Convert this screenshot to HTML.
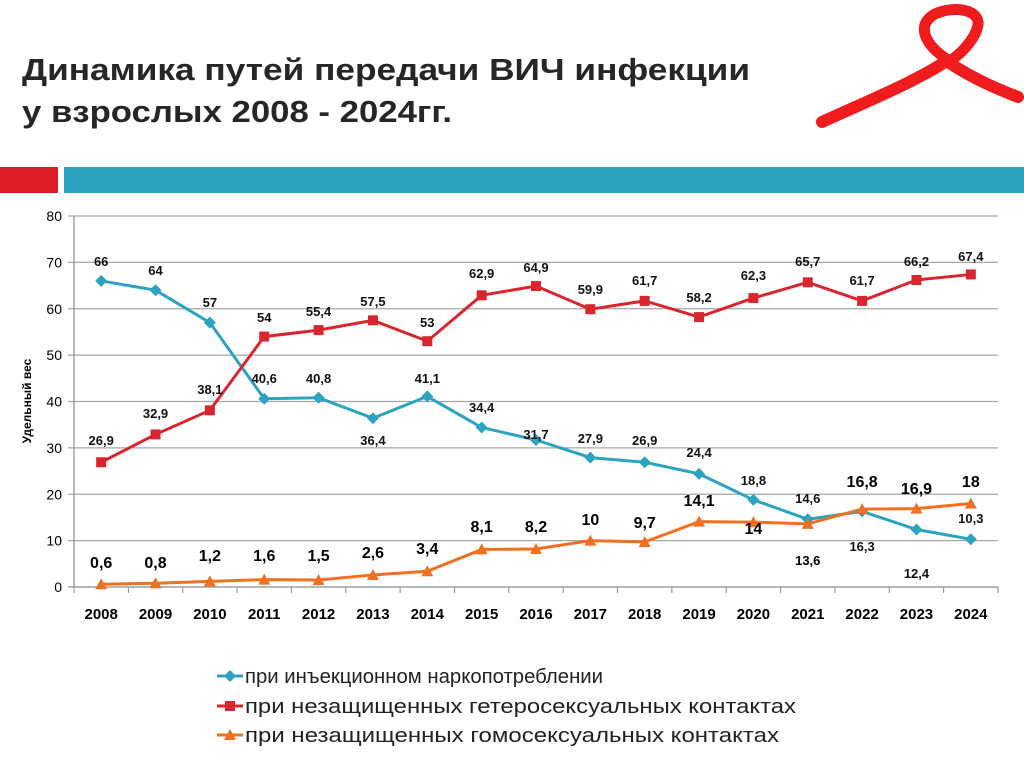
<!DOCTYPE html>
<html><head><meta charset="utf-8"><style>
html,body{margin:0;padding:0;background:#fff;}
svg{display:block;font-family:"Liberation Sans",sans-serif;}
</style></head><body>
<svg id="s" width="1024" height="767" viewBox="0 0 1024 767" xmlns="http://www.w3.org/2000/svg">
<text x="22" y="80" font-size="31" font-weight="bold" fill="#262626" textLength="728" lengthAdjust="spacingAndGlyphs">Динамика путей передачи ВИЧ инфекции</text>
<text x="22" y="122" font-size="31" font-weight="bold" fill="#262626" textLength="430" lengthAdjust="spacingAndGlyphs">у взрослых 2008 - 2024гг.</text>
<g fill="none" stroke="#ee1c1c" stroke-linecap="round">
<path d="M822,122 C870,100 915,82 948,60" stroke-width="12"/>
<path d="M948,60 C925,45 915,25 935,14 C955,5 980,10 978,25 C975,40 960,55 948,62" stroke-width="11"/>
<path d="M948,62 C975,80 1000,90 1018,97" stroke-width="12"/>
</g>
<rect x="0" y="167" width="58" height="26" fill="#dc1f26"/>
<rect x="64" y="167" width="960" height="26" fill="#2ea3bf"/>
<g id="grid"></g>
<g id="series"></g>
<text transform="translate(31,401) rotate(-90)" font-size="12" font-weight="bold" text-anchor="middle" fill="#000">Удельный вес</text>
<g font-size="20" fill="#222">
<line x1="217" y1="676" x2="243" y2="676" stroke="#2ea3bf" stroke-width="3"/><path d="M230,670 L236,676 L230,682 L224,676Z" fill="#2ea3bf"/>
<text x="245" y="683" textLength="358" lengthAdjust="spacingAndGlyphs">при инъекционном наркопотреблении</text>
<line x1="217" y1="706" x2="243" y2="706" stroke="#d9262e" stroke-width="3"/><rect x="225" y="701" width="10" height="10" fill="#d9262e"/>
<text x="245" y="713" textLength="551" lengthAdjust="spacingAndGlyphs">при незащищенных гетеросексуальных контактах</text>
<line x1="217" y1="735" x2="243" y2="735" stroke="#f07022" stroke-width="3"/><path d="M230,729 L236,740 L224,740Z" fill="#f07022"/>
<text x="245" y="742" textLength="534" lengthAdjust="spacingAndGlyphs">при незащищенных гомосексуальных контактах</text>
</g>
</svg>
<script>
var ns="http://www.w3.org/2000/svg";
function el(p,t,a,txt){var e=document.createElementNS(ns,t);for(var k in a)e.setAttribute(k,a[k]);if(txt!=null)e.textContent=txt;p.appendChild(e);return e;}
var g=document.getElementById('grid'),s=document.getElementById('series');
var L=74,R=998,B=587,T=216,k=(B-T)/80,cw=(R-L)/17;
function Y(v){return B-v*k}function X(i){return L+cw*(i+0.5)}
for(var v=0;v<=80;v+=10){var y=Y(v);el(g,'line',{x1:L-6,x2:R,y1:y,y2:y,stroke:v?'#a6a6a6':'#8c8c8c','stroke-width':1.2});el(g,'text',{x:L-12,y:y+5,'font-size':14,'text-anchor':'end',fill:'#000'},v);}
el(g,'line',{x1:L,x2:L,y1:T,y2:B,stroke:'#8c8c8c','stroke-width':1.2});
for(var i=0;i<=17;i++){var x=L+cw*i;el(g,'line',{x1:x,x2:x,y1:B,y2:B+6,stroke:'#8c8c8c'});}
for(var i=0;i<17;i++)el(g,'text',{x:X(i),y:619,'font-size':15,'font-weight':'bold','text-anchor':'middle',fill:'#000'},2008+i);
var blue=[66,64,57,40.6,40.8,36.4,41.1,34.4,31.7,27.9,26.9,24.4,18.8,14.6,16.3,12.4,10.3];
var red=[26.9,32.9,38.1,54,55.4,57.5,53,62.9,64.9,59.9,61.7,58.2,62.3,65.7,61.7,66.2,67.4];
var orn=[0.6,0.8,1.2,1.6,1.5,2.6,3.4,8.1,8.2,10,9.7,14.1,14,13.6,16.8,16.9,18];
var bl=[261,270,302,378,378,440,378,407,434,438,440,452,480,498,546,573,518];
var rl=[440,413,389,317,311,301,322,273,267,289,280,297,275,261,280,261,256];
var ol=[562,562,555,555,555,552,548,526,526,519,522,500,528,559,481,488,481];
function line(d,c){el(s,'polyline',{points:d.map(function(v,i){return X(i)+','+Y(v)}).join(' '),fill:'none',stroke:c,'stroke-width':3});}
function fmt(v){return String(v).replace('.',',')}
line(blue,'#2ea3bf');line(red,'#d9262e');line(orn,'#f07022');
blue.forEach(function(v,i){var x=X(i),y=Y(v);el(s,'path',{d:'M'+x+','+(y-6)+'L'+(x+6)+','+y+'L'+x+','+(y+6)+'L'+(x-6)+','+y+'Z',fill:'#2ea3bf'});el(s,'text',{x:x,y:bl[i]+5,'font-size':13,'font-weight':'bold','text-anchor':'middle',fill:'#111'},fmt(v));});
red.forEach(function(v,i){var x=X(i),y=Y(v);el(s,'rect',{x:x-5,y:y-5,width:10,height:10,fill:'#d9262e'});el(s,'text',{x:x,y:rl[i]+5,'font-size':13,'font-weight':'bold','text-anchor':'middle',fill:'#111'},fmt(v));});
orn.forEach(function(v,i){var x=X(i),y=Y(v);el(s,'path',{d:'M'+x+','+(y-6)+'L'+(x+6)+','+(y+5)+'L'+(x-6)+','+(y+5)+'Z',fill:'#f07022'});el(s,'text',{x:x,y:ol[i]+6,'font-size':(i==13?13:16),'font-weight':'bold','text-anchor':'middle',fill:'#000'},fmt(v));});
</script>
</body></html>
